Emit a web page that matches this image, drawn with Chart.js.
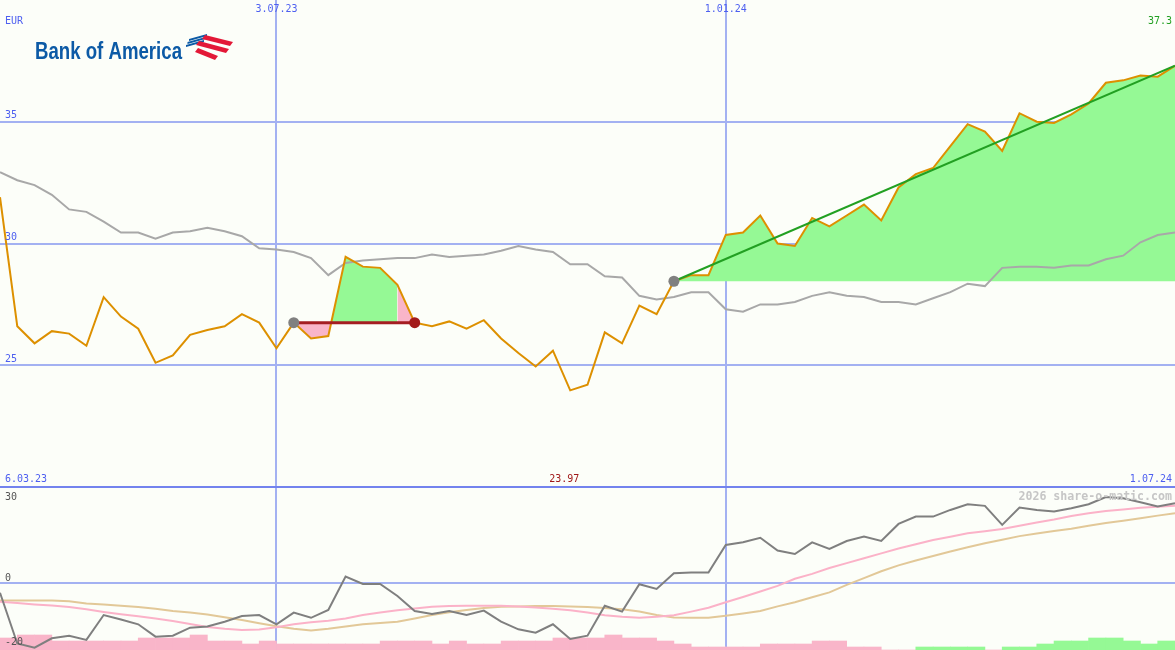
<!DOCTYPE html>
<html>
<head>
<meta charset="utf-8">
<title>Bank of America</title>
<script src="https://cdn.jsdelivr.net/npm/chart.js@4.4.1/dist/chart.umd.min.js"></script>
<style>
html, body { margin: 0; padding: 0; background: #fcfef9; }
#wrap { position: relative; width: 1175px; height: 650px; overflow: hidden; }
#wrap canvas { position: absolute; left: 0; }
#priceChart { top: 0; }
#oscChart { top: 487px; }
#sep { position: absolute; left: 0; top: 486px; width: 1175px; height: 2px; background: #7383ee; }
</style>
</head>
<body>
<div id="wrap">
    <canvas id="priceChart" width="1175" height="487"></canvas>
    <canvas id="oscChart" width="1175" height="163"></canvas>
    <div id="sep"></div>
</div>
<script>
// weekly closes (EUR)
const closes = [31.9, 26.6, 25.9, 26.4, 26.3, 25.8, 27.8, 27.0, 26.5, 25.1,
    25.4, 26.25, 26.45, 26.6, 27.1, 26.75, 25.7, 26.75, 26.1, 26.2,
    29.45, 29.05, 29.0, 28.3, 26.75, 26.6, 26.8, 26.5, 26.85, 26.1,
    25.5, 24.95, 25.6, 23.97, 24.2, 26.35, 25.9, 27.45, 27.1, 28.45,
    28.7, 28.7, 30.35, 30.45, 31.15, 30.0, 29.9, 31.05, 30.7, 31.15,
    31.6, 30.95, 32.3, 32.85, 33.1, 34.0, 34.9, 34.6, 33.8, 35.35,
    35.0, 34.95, 35.3, 35.75, 36.6, 36.7, 36.9, 36.85, 37.3];
const average = [32.93, 32.6, 32.4, 32.0, 31.4, 31.3, 30.9, 30.45, 30.45, 30.2,
    30.45, 30.5, 30.65, 30.5, 30.3, 29.8, 29.75, 29.65, 29.4, 28.7,
    29.2, 29.3, 29.35, 29.4, 29.4, 29.55, 29.45, 29.5, 29.55, 29.7,
    29.9, 29.75, 29.65, 29.15, 29.15, 28.65, 28.6, 27.85, 27.7, 27.8,
    28.0, 28.0, 27.3, 27.2, 27.5, 27.5, 27.6, 27.85, 28.0, 27.85,
    27.8, 27.6, 27.6, 27.5, 27.75, 28.0, 28.35, 28.25, 29.0, 29.05,
    29.05, 29.0, 29.1, 29.1, 29.35, 29.5, 30.05, 30.35, 30.45];

// lower panel
const momentum = [-3.0, -18.6, -19.9, -17.0, -16.2, -17.5, -9.85, -11.2, -12.7, -16.5,
    -16.2, -13.75, -13.4, -11.9, -10.15, -9.85, -12.7, -9.1, -10.7, -8.3,
    1.95, -0.3, -0.3, -4.0, -8.6, -9.5, -8.6, -9.85, -8.5, -11.9,
    -14.25, -15.3, -12.7, -17.2, -16.2, -7.0, -8.8, -0.4, -1.85, 3.0,
    3.2, 3.2, 11.7, 12.5, 13.9, 9.95, 8.9, 12.5, 10.45, 12.9,
    14.25, 12.9, 18.15, 20.4, 20.4, 22.45, 24.2, 23.7, 17.85, 23.2,
    22.45, 21.95, 23.0, 24.2, 26.4, 26.05, 24.8, 23.5, 24.5];
const fastLine = [-5.75, -6.15, -6.6, -6.95, -7.35, -8.1, -8.9, -9.6, -10.2, -10.9,
    -11.7, -12.6, -13.5, -14.1, -14.45, -14.3, -13.6, -12.7, -12.1, -11.6,
    -10.9, -9.85, -9.05, -8.35, -7.85, -7.3, -7.1, -7.0, -7.0, -7.0,
    -7.2, -7.55, -7.9, -8.4, -9.1, -9.9, -10.4, -10.7, -10.4, -9.9,
    -8.8, -7.6, -5.9, -4.3, -2.6, -0.9, 1.3, 2.8, 4.6, 6.1,
    7.6, 9.1, 10.6, 11.9, 13.2, 14.2, 15.3, 15.9, 16.6, 17.6,
    18.6, 19.5, 20.6, 21.4, 22.1, 22.6, 23.1, 23.4, 23.7];
const slowLine = [-5.4, -5.4, -5.4, -5.4, -5.6, -6.3, -6.6, -7.0, -7.4, -7.9,
    -8.6, -9.1, -9.7, -10.5, -11.4, -12.4, -13.3, -14.1, -14.6, -14.1,
    -13.4, -12.7, -12.3, -11.9, -10.9, -9.85, -9.0, -8.3, -7.7, -7.3,
    -7.2, -7.1, -7.1, -7.2, -7.4, -7.7, -8.1, -8.8, -9.85, -10.6,
    -10.7, -10.7, -10.1, -9.4, -8.6, -7.2, -5.9, -4.4, -2.9, -0.6,
    1.5, 3.6, 5.4, 6.9, 8.3, 9.7, 11.0, 12.2, 13.3, 14.4,
    15.2, 16.0, 16.7, 17.6, 18.4, 19.1, 19.9, 20.7, 21.45];
const histogram = [-4, -5, -5, -3, -3, -3, -3, -3, -4, -4,
    -4, -5, -3, -3, -2, -3, -2, -2, -2, -2,
    -2, -2, -3, -3, -3, -2, -3, -2, -2, -3,
    -3, -3, -4, -4, -4, -5, -4, -4, -3, -2,
    -1, -1, -1, -1, -2, -2, -2, -3, -3, -1,
    -1, 0, 0, 1, 1, 1, 1, 0, 1, 1,
    2, 3, 3, 4, 4, 3, 2, 3];

// axis labels
const dateTickIndex = [16, 42];
const dateTickLabels = ['3.07.23', '1.01.24'];
const firstDate = '6.03.23';
const lastDate = '1.07.24';
const priceTicks = [25, 30, 35];
const oscTicks = [30, 0, -20];
const oscGrid = [0];

// signals
const buyIndex = 17;
const sellIndex = 24;
const trendIndex = 39;

const green = '#95f995';
const pink = '#f9b5c9';
const gridBlue = '#a3b1f2';
const blueText = '#4d5ff0';
const mono = '10px "DejaVu Sans Mono", monospace';

const lastIndex = closes.length - 1;
const minValue = Math.min(...closes);
const minIndex = closes.indexOf(minValue);

const points = (arr, from = 0, to = arr.length - 1) =>
    arr.slice(from, to + 1).map((y, i) => ({ x: from + i, y }));

function xAxis() {
    return {
        type: 'linear',
        min: 0,
        max: lastIndex,
        offset: false,
        grid: { color: gridBlue, lineWidth: 2, drawTicks: false, offset: false },
        border: { display: false },
        ticks: { display: false },
        afterBuildTicks: s => { s.ticks = dateTickIndex.map(v => ({ value: v })); },
        afterFit: s => { s.height = 0; }
    };
}

function yAxis(min, max, grid) {
    return {
        min,
        max,
        grid: { color: gridBlue, lineWidth: 2, drawTicks: false },
        border: { display: false },
        ticks: { display: false },
        afterBuildTicks: s => { s.ticks = grid.map(v => ({ value: v })); },
        afterFit: s => { s.width = 0; }
    };
}

function drawLogo(ctx) {
    ctx.save();
    ctx.fillStyle = '#0c5aa6';
    ctx.font = 'bold 23px "Liberation Sans", Arial, sans-serif';
    ctx.textBaseline = 'alphabetic';
    ctx.textAlign = 'left';
    const w = ctx.measureText('Bank of America').width;
    ctx.translate(35, 59);
    ctx.scale(147 / w, 1);
    ctx.fillText('Bank of America', 0, 0);
    ctx.restore();

    ctx.save();
    ctx.fillStyle = '#0c5aa6';
    for (let i = 0; i < 3; i++) {
        const dx = 1.5 * i, dy = -3 * i;
        ctx.beginPath();
        ctx.moveTo(186 + dx, 45 + dy);
        ctx.lineTo(204 + dx, 40 + dy);
        ctx.lineTo(204 + dx, 42 + dy);
        ctx.lineTo(186 + dx, 47 + dy);
        ctx.closePath();
        ctx.fill();
    }
    ctx.fillStyle = '#e31837';
    [[205, 35, 233, 42], [199, 41, 229, 49], [198, 48, 218, 56]].forEach(([x1, y1, x2, y2]) => {
        ctx.beginPath();
        ctx.moveTo(x1, y1);
        ctx.lineTo(x2, y2);
        ctx.lineTo(x2 - 3, y2 + 4);
        ctx.lineTo(x1 - 3, y1 + 4);
        ctx.closePath();
        ctx.fill();
    });
    ctx.restore();
}

const priceLabels = {
    id: 'priceLabels',
    afterDraw(chart) {
        const { ctx, scales: { x, y } } = chart;
        ctx.save();
        ctx.font = mono;
        ctx.textBaseline = 'middle';
        ctx.fillStyle = blueText;
        ctx.textAlign = 'left';
        ctx.fillText('EUR', 5, 21);
        priceTicks.forEach(v => ctx.fillText(String(v), 5, y.getPixelForValue(v) - 6));
        ctx.fillText(firstDate, 5, 479);
        ctx.textAlign = 'center';
        dateTickIndex.forEach((v, i) => ctx.fillText(dateTickLabels[i], x.getPixelForValue(v), 9));
        ctx.textAlign = 'right';
        ctx.fillText(lastDate, 1172, 479);
        ctx.fillStyle = '#22a022';
        ctx.fillText(closes[lastIndex].toFixed(1), 1172, 21);
        ctx.fillStyle = '#a01818';
        ctx.textAlign = 'center';
        ctx.fillText(minValue.toFixed(2), x.getPixelForValue(minIndex) - 6, 479);
        ctx.restore();
        drawLogo(ctx);
    }
};

const oscLabels = {
    id: 'oscLabels',
    afterDraw(chart) {
        const { ctx, scales: { y } } = chart;
        ctx.save();
        ctx.font = mono;
        ctx.fillStyle = '#555555';
        ctx.textBaseline = 'middle';
        ctx.textAlign = 'left';
        oscTicks.forEach(v => {
            const py = Math.min(Math.max(y.getPixelForValue(v) - 5, 10), chart.height - 8);
            ctx.fillText(String(v), 5, py);
        });
        ctx.font = 'bold 11.6px "DejaVu Sans Mono", monospace';
        ctx.fillStyle = '#c6c6c6';
        ctx.textAlign = 'right';
        ctx.fillText('2026 share-o-matic.com', 1172, 10);
        ctx.restore();
    }
};

const common = {
    responsive: false,
    animation: false,
    devicePixelRatio: 1,
    events: [],
    layout: { padding: 0, autoPadding: false },
    elements: {
        point: { radius: 0 },
        line: { tension: 0, borderWidth: 2, fill: false }
    },
    plugins: { legend: { display: false }, tooltip: { enabled: false } }
};

const priceChart = new Chart(
    document.getElementById('priceChart').getContext('2d'),
    {
        type: 'line',
        data: {
            datasets: [
                {
                    data: [{ x: buyIndex, y: closes[buyIndex] }, { x: trendIndex, y: closes[trendIndex] }],
                    showLine: false,
                    pointRadius: 5.5,
                    pointBorderWidth: 0,
                    pointBackgroundColor: '#808080',
                    order: 0
                },
                {
                    data: [{ x: sellIndex, y: closes[sellIndex] }],
                    showLine: false,
                    pointRadius: 5.5,
                    pointBorderWidth: 0,
                    pointBackgroundColor: '#a31a1a',
                    order: 0
                },
                {
                    data: [{ x: trendIndex, y: closes[trendIndex] }, { x: lastIndex, y: closes[lastIndex] }],
                    borderColor: '#22a022',
                    borderWidth: 2,
                    order: 1
                },
                {
                    data: [{ x: buyIndex, y: closes[buyIndex] }, { x: sellIndex, y: closes[buyIndex] }],
                    borderColor: '#a51d22',
                    borderWidth: 3,
                    order: 1
                },
                {
                    data: points(closes),
                    borderColor: '#dd9000',
                    borderWidth: 2,
                    order: 2
                },
                {
                    data: points(average),
                    borderColor: '#a8a8a8',
                    borderWidth: 2,
                    order: 3
                },
                {
                    data: points(closes, buyIndex, sellIndex - 1),
                    borderWidth: 0,
                    borderColor: 'transparent',
                    fill: { target: { value: closes[buyIndex] }, above: green, below: pink },
                    order: 4
                },
                {
                    data: points(closes, sellIndex - 1, sellIndex),
                    borderWidth: 0,
                    borderColor: 'transparent',
                    fill: { target: { value: closes[buyIndex] }, above: pink, below: pink },
                    order: 4
                },
                {
                    data: points(closes, trendIndex, lastIndex),
                    borderWidth: 0,
                    borderColor: 'transparent',
                    fill: { target: { value: closes[trendIndex] }, above: green, below: green },
                    order: 4
                }
            ]
        },
        options: {
            ...common,
            scales: {
                x: xAxis(),
                y: yAxis(20, 40, priceTicks)
            }
        },
        plugins: [priceLabels]
    }
);

const oscChart = new Chart(
    document.getElementById('oscChart').getContext('2d'),
    {
        type: 'line',
        data: {
            datasets: [
                {
                    data: points(momentum),
                    borderColor: '#7f7f7f',
                    order: 0
                },
                {
                    data: points(fastLine),
                    borderColor: '#fbb2c8',
                    order: 1
                },
                {
                    data: points(slowLine),
                    borderColor: '#e2c898',
                    order: 2
                },
                {
                    type: 'bar',
                    data: histogram.map((v, k) => ({ x: k + 0.5, y: Math.abs(v) })),
                    backgroundColor: histogram.map(v => v > 0 ? green : pink),
                    borderWidth: 0,
                    barPercentage: 1,
                    categoryPercentage: 1,
                    yAxisID: 'yh',
                    order: 3
                }
            ]
        },
        options: {
            ...common,
            scales: {
                x: xAxis(),
                y: yAxis(-20.6, 29.5, oscGrid),
                yh: { display: false, min: 0, max: 163 / 3 }
            }
        },
        plugins: [oscLabels]
    }
);
</script>
</body>
</html>
